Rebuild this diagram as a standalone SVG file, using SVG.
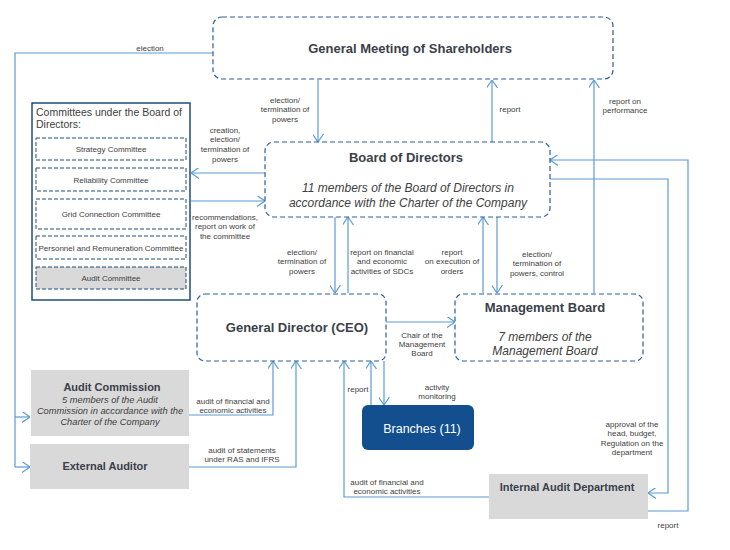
<svg xmlns="http://www.w3.org/2000/svg" width="730" height="550" viewBox="0 0 730 550">
<style>
text{font-family:"Liberation Sans",Arial,sans-serif;}
.box{fill:#fff;stroke:#2F5C98;stroke-width:1.2;stroke-dasharray:5 3;}
.sub{fill:#fff;stroke:#1F4E79;stroke-width:1;stroke-dasharray:4 2;}
.grey{fill:#d9d9d9;stroke:none;}
.ln{fill:none;stroke:#5B9BD5;stroke-width:1.2;}
.arr{marker-end:url(#a);}
.lbl{font-size:8px;fill:#404040;text-anchor:middle;}
.ttl{font-weight:bold;fill:#3a3f4a;text-anchor:middle;}
.it{font-style:italic;fill:#404040;text-anchor:middle;}
.cm{font-size:8px;fill:#404040;text-anchor:middle;}
</style>
<defs>
<marker id="a" viewBox="0 0 8 11" refX="8" refY="5.5" markerWidth="8" markerHeight="11" markerUnits="userSpaceOnUse" orient="auto">
<path d="M0,0 L8,5.5 L0,11" fill="none" stroke="#5B9BD5" stroke-width="1.2"/>
</marker>
</defs>
<rect width="730" height="550" fill="#fff"/>

<g id="connectors">
<path class="ln" d="M213,53 H15 V467"/>
<path class="ln arr" d="M15,417 H30"/>
<path class="ln arr" d="M15,467 H30"/>
<path class="ln arr" d="M318,80 V142"/>
<path class="ln arr" d="M492,142 V80"/>
<path class="ln arr" d="M594,293 V80"/>
<path class="ln arr" d="M265,173 H191"/>
<path class="ln arr" d="M191,201 H265"/>
<path class="ln arr" d="M335,217 V293"/>
<path class="ln arr" d="M348,293 V217"/>
<path class="ln arr" d="M483,293 V217"/>
<path class="ln arr" d="M497,217 V293"/>
<path class="ln arr" d="M386,322 H455"/>
<path class="ln arr" d="M189,415 H273 V361"/>
<path class="ln arr" d="M189,467 H296 V361"/>
<path class="ln arr" d="M489,497 H344 V361"/>
<path class="ln arr" d="M371,405 V361"/>
<path class="ln arr" d="M384,361 V405"/>
<path class="ln arr" d="M648,511 H688 V160 H550"/>
<path class="ln arr" d="M550,179 H668 V493 H648"/>
<g id="connector-labels">
<text class="lbl" x="150" y="51">election</text>
<text class="lbl" x="285" y="103">election/</text>
<text class="lbl" x="285" y="112">termination  of</text>
<text class="lbl" x="285" y="122">powers</text>
<text class="lbl" x="510" y="112">report</text>
<text class="lbl" x="625" y="104">report on</text>
<text class="lbl" x="625" y="113">performance</text>
<text class="lbl" x="225" y="133">creation,</text>
<text class="lbl" x="225" y="142">election/</text>
<text class="lbl" x="225" y="152">termination  of</text>
<text class="lbl" x="225" y="162">powers</text>
<text class="lbl" x="225" y="220">recommendations,</text>
<text class="lbl" x="225" y="229">report on work of</text>
<text class="lbl" x="225" y="239">the committee</text>
<text class="lbl" x="302" y="255">election/</text>
<text class="lbl" x="302" y="264">termination  of</text>
<text class="lbl" x="302" y="274">powers</text>
<text class="lbl" x="382" y="255">report on financial</text>
<text class="lbl" x="382" y="264">and  economic</text>
<text class="lbl" x="382" y="274">activities  of SDCs</text>
<text class="lbl" x="452" y="255">report</text>
<text class="lbl" x="452" y="264">on execution  of</text>
<text class="lbl" x="452" y="274">orders</text>
<text class="lbl" x="537" y="257">election/</text>
<text class="lbl" x="537" y="266">termination  of</text>
<text class="lbl" x="537" y="276">powers,  control</text>
<text class="lbl" x="422" y="338">Chair of the</text>
<text class="lbl" x="422" y="347">Management</text>
<text class="lbl" x="422" y="356">Board</text>
<text class="lbl" x="358" y="392">report</text>
<text class="lbl" x="437" y="390">activity</text>
<text class="lbl" x="437" y="399">monitoring</text>
<text class="lbl" x="233" y="404">audit  of financial  and</text>
<text class="lbl" x="233" y="413">economic  activities</text>
<text class="lbl" x="242" y="453">audit  of statements</text>
<text class="lbl" x="242" y="462">under  RAS and  IFRS</text>
<text class="lbl" x="387" y="485">audit  of financial  and</text>
<text class="lbl" x="387" y="494">economic  activities</text>
<text class="lbl" x="632" y="427">approval  of the</text>
<text class="lbl" x="632" y="436">head,  budget,</text>
<text class="lbl" x="632" y="446">Regulation  on the</text>
<text class="lbl" x="632" y="455">department</text>
<text class="lbl" x="668" y="528">report</text>
</g>
</g>

<g id="gms">
<rect class="box" x="213" y="17" width="400" height="62" rx="9"/>
<text class="ttl" x="410" y="53" font-size="13">General Meeting of Shareholders</text>
</g>

<g id="committees">
<rect x="32" y="103" width="158" height="197" fill="#fff" stroke="#1F4E79" stroke-width="1.5"/>
<text x="36" y="116" font-size="10.5" fill="#404040">Committees  under the Board of</text>
<text x="36" y="128" font-size="10.5" fill="#404040">Directors:</text>
<g id="strategy"><rect class="sub" x="36" y="138" width="150" height="22"/><text class="cm" x="111" y="152">Strategy  Committee</text></g>
<g id="reliability"><rect class="sub" x="36" y="168" width="150" height="23"/><text class="cm" x="111" y="183">Reliability  Committee</text></g>
<g id="grid"><rect class="sub" x="36" y="199" width="150" height="30"/><text class="cm" x="111" y="217">Grid Connection  Committee</text></g>
<g id="personnel"><rect class="sub" x="36" y="236" width="150" height="23"/><text class="cm" x="111" y="251">Personnel  and  Remuneration  Committee</text></g>
<g id="audit-committee"><rect class="sub" x="36" y="267" width="150" height="22" style="fill:#d9d9d9"/><text class="cm" x="111" y="281">Audit Committee</text></g>
</g>

<g id="bod">
<rect class="box" x="265" y="142" width="285" height="75" rx="9"/>
<text class="ttl" x="406" y="162" font-size="13">Board of Directors</text>
<text class="it" x="408" y="192" font-size="12">11 members of the Board of Directors in</text>
<text class="it" x="408" y="207" font-size="12">accordance with the Charter of the Company</text>
</g>

<g id="ceo">
<rect class="box" x="197" y="294" width="189" height="67" rx="8"/>
<text class="ttl" x="297" y="332" font-size="13">General Director (CEO)</text>
</g>

<g id="mb">
<rect class="box" x="455" y="294" width="188" height="67" rx="8"/>
<text class="ttl" x="545" y="312" font-size="13">Management Board</text>
<text class="it" x="545" y="341" font-size="12">7 members of the</text>
<text class="it" x="545" y="355" font-size="12">Management Board</text>
</g>

<g id="branches">
<rect x="362" y="405" width="112" height="45" rx="6" fill="#134F8E"/>
<text x="422" y="433" font-size="12.5" fill="#fff" text-anchor="middle">Branches (11)</text>
</g>

<g id="audit-commission">
<rect class="grey" x="31" y="370" width="158" height="66"/>
<text class="ttl" x="112" y="391" font-size="11">Audit Commission</text>
<text class="it" x="110" y="403" font-size="9.3">5 members  of the Audit</text>
<text class="it" x="110" y="414" font-size="9.3">Commission  in accordance with the</text>
<text class="it" x="110" y="425" font-size="9.3">Charter of the Company</text>
</g>

<g id="external-auditor">
<rect class="grey" x="30" y="444" width="159" height="45"/>
<text class="ttl" x="105" y="470" font-size="11">External Auditor</text>
</g>

<g id="iad">
<rect class="grey" x="489" y="474" width="159" height="45"/>
<text class="ttl" x="567" y="491" font-size="11">Internal Audit Department</text>
</g>
</svg>
